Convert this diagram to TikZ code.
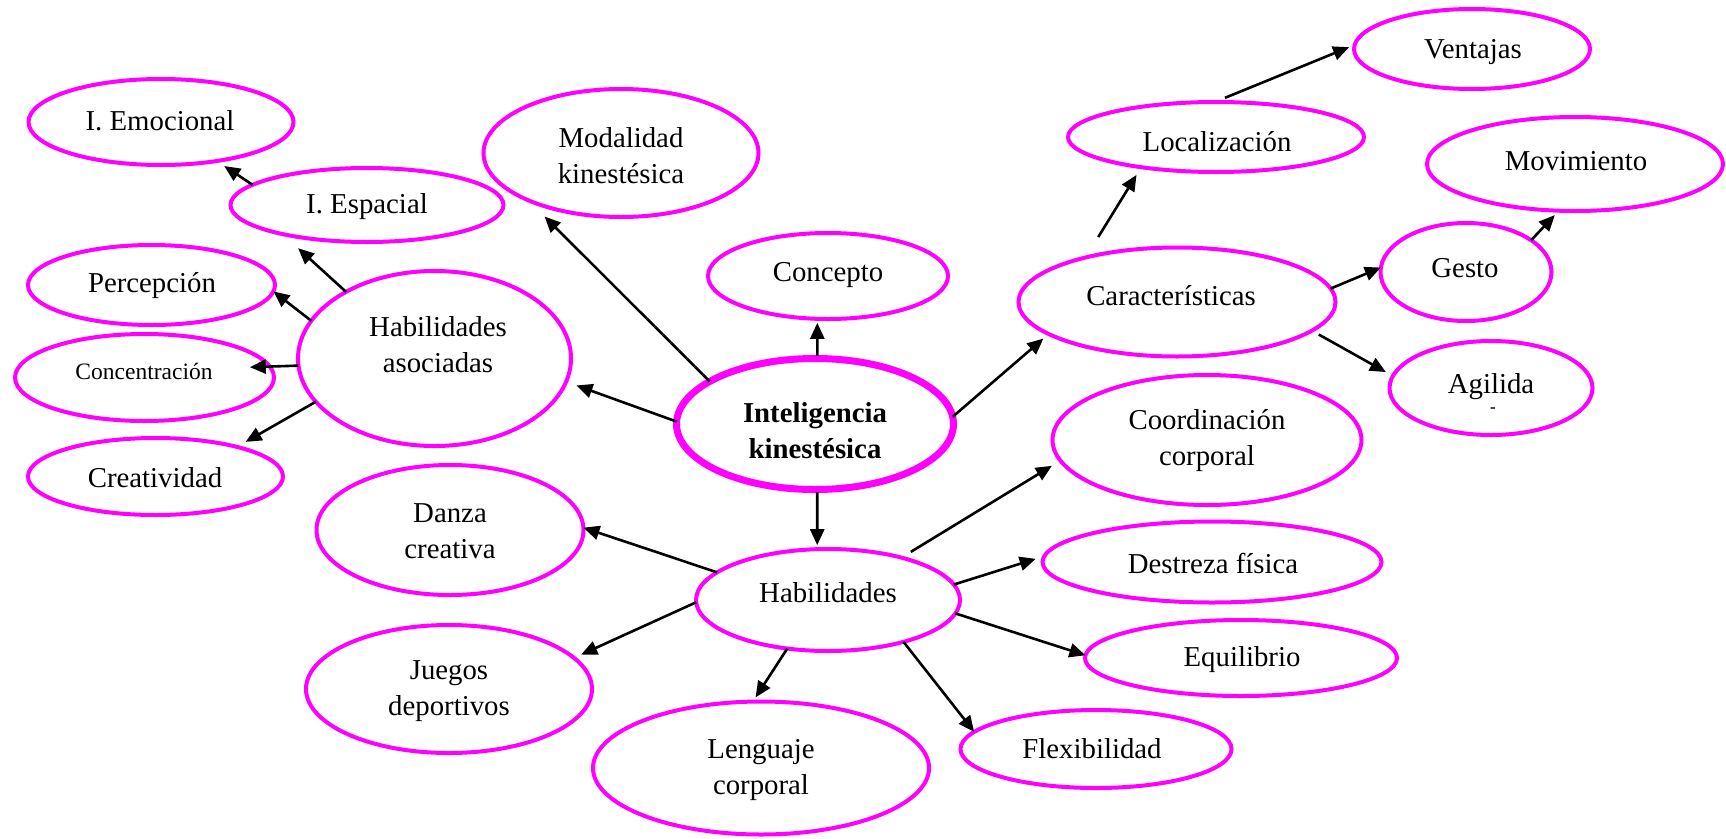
\documentclass[tikz,border=0pt]{standalone}
\usepackage{fontspec}
\setmainfont{Liberation Serif}
\usetikzlibrary{arrows.meta,shapes.geometric}
\definecolor{mag}{RGB}{255,0,255}
\tikzset{
  bub/.style={ellipse, draw=mag, line width=4pt, inner sep=0pt, outer sep=0pt},
  mainbub/.style={bub, line width=7pt},
  txt/.style={inner sep=0pt, align=center, font=\fontsize{28.8}{36}\selectfont},
  smalltxt/.style={inner sep=0pt, align=center, font=\fontsize{23.5}{28}\selectfont},
  boldtxt/.style={txt, font=\fontsize{28.8}{36}\selectfont\bfseries},
  arr/.style={-{Triangle[length=16pt,width=14pt]}, line width=2.6pt, black},
}
\begin{document}
\begin{tikzpicture}[x=1pt,y=-1pt]
\useasboundingbox (0,0) rectangle (1726,838);
% ellipses
\node[bub, minimum width=265pt, minimum height=86pt] (emo) at (161,122) {};
\node[bub, minimum width=273pt, minimum height=74pt] (esp) at (367,205) {};
\node[bub, minimum width=247pt, minimum height=80pt] (perc) at (151.5,285) {};
\node[bub, minimum width=259pt, minimum height=87pt] (conc) at (144.5,377.5) {};
\node[bub, minimum width=255pt, minimum height=77pt] (crea) at (155.5,476.5) {};
\node[bub, minimum width=273pt, minimum height=175pt] (ha) at (434.5,358.5) {};
\node[bub, minimum width=275pt, minimum height=128pt] (mod) at (621,153) {};
\node[bub, minimum width=240pt, minimum height=86pt] (cpt) at (828,276) {};
\node[mainbub, minimum width=277pt, minimum height=131pt] (ik) at (815,424) {};
\node[bub, minimum width=264pt, minimum height=102pt] (hab) at (828,600) {};
\node[bub, minimum width=267pt, minimum height=130pt] (dan) at (450,530) {};
\node[bub, minimum width=286pt, minimum height=128pt] (jue) at (449,689) {};
\node[bub, minimum width=336pt, minimum height=133pt] (len) at (761,768) {};
\node[bub, minimum width=271pt, minimum height=78pt] (fle) at (1096,749) {};
\node[bub, minimum width=312pt, minimum height=76pt] (equ) at (1241,658) {};
\node[bub, minimum width=339pt, minimum height=81pt] (des) at (1212,562) {};
\node[bub, minimum width=309pt, minimum height=130pt] (coo) at (1207,440) {};
\node[bub, minimum width=317pt, minimum height=109pt] (car) at (1177,302) {};
\node[bub, minimum width=296pt, minimum height=70pt] (loc) at (1216,137) {};
\node[bub, minimum width=236pt, minimum height=80pt] (ven) at (1472,49) {};
\node[bub, minimum width=296pt, minimum height=94pt] (mov) at (1575,164) {};
\node[bub, minimum width=171pt, minimum height=98pt] (ges) at (1466,272) {};
\node[bub, minimum width=203pt, minimum height=94pt] (agi) at (1491,388) {};
% texts
\node[txt] (emo-t) at (160,121) {I. Emocional};
\node[txt] (esp-t) at (367,207) {I. Espacial};
\node[txt] (perc-t) at (152,286) {Percepción};
\node[smalltxt] (conc-t) at (144,371) {Concentración};
\node[txt] (crea-t) at (155,478) {Creatividad};
\node[txt] (ha-t) at (438,345) {Habilidades\\asociadas};
\node[txt] (mod-t) at (621,156) {Modalidad\\kinestésica};
\node[txt] (cpt-t) at (828,275) {Concepto};
\node[boldtxt] (ik-t) at (815,431) {Inteligencia\\kinestésica};
\node[txt] (hab-t) at (828,593) {Habilidades};
\node[txt] (dan-t) at (450,531) {Danza\\creativa};
\node[txt] (jue-t) at (449,691) {Juegos\\deportivos};
\node[txt] (len-t) at (761,770) {Lenguaje\\corporal};
\node[txt] (fle-t) at (1092,749) {Flexibilidad};
\node[txt] (equ-t) at (1242,660) {Equilibrio};
\node[txt] (des-t) at (1213,563) {Destreza física};
\node[txt] (coo-t) at (1207,441) {Coordinación\\corporal};
\node[txt] (car-t) at (1171,296) {Características};
\node[txt] (loc-t) at (1217,142) {Localización};
\node[txt] (ven-t) at (1473,52) {Ventajas};
\node[txt] (mov-t) at (1576,161) {Movimiento};
\node[txt] (ges-t) at (1465,268) {Gesto};
\node[txt] (agi-t) at (1491,387) {Agilida};
\node[inner sep=0pt, font=\fontsize{17}{17}\selectfont\bfseries] (agi-d) at (1493,410) {-};
% connectors
\draw[arr, shorten <=3pt, shorten >=4pt] (ik.88) -- (cpt.-104);
\draw[arr, shorten >=23pt] (ik.158) -- (mod.-153);
\draw[arr, shorten >=11pt] (ik.179) -- (ha.-10);
\draw[arr, shorten >=7pt] (ik.3) -- (car.-166);
\draw[arr, shorten <=3pt, shorten >=4pt] (ik.-88) -- (hab.102);
\draw[arr, shorten >=21pt] (ha.143) -- (esp.-161);
\draw[arr] (ha.163) -- (perc.-3);
\draw[arr, shorten >=-20pt] (ha.-177) -- (conc.5);
\draw[arr, shorten >=10pt] (ha.-160) -- (crea.20);
\draw[arr, shorten >=9pt] (esp.170) -- (emo.-35);
\draw[arr, shorten <=24pt, shorten >=9pt] (car.154) -- (loc.-158);
\draw[arr, shorten <=11pt, shorten >=6pt] (loc.92) -- (ven.178);
\draw[arr] (car.5) -- (ges.177);
\draw[arr, shorten >=6pt] (ges.26) -- (mov.-109);
\draw[arr, shorten <=8pt, shorten >=8pt] (car.-12) -- (agi.173);
\draw[arr] (hab.166) -- (dan.1);
\draw[arr, shorten >=8pt] (hab.-179) -- (jue.14);
\draw[arr, shorten >=5pt] (hab.-130) -- (len.97);
\draw[arr] (hab.-29) -- (fle.172);
\draw[arr] (hab.-6) -- (equ.179);
\draw[arr, shorten >=9pt] (hab.7) -- (des.178);
\draw[arr, shorten <=11pt, shorten >=10pt] (hab.30) -- (coo.-172);
\end{tikzpicture}
\end{document}
